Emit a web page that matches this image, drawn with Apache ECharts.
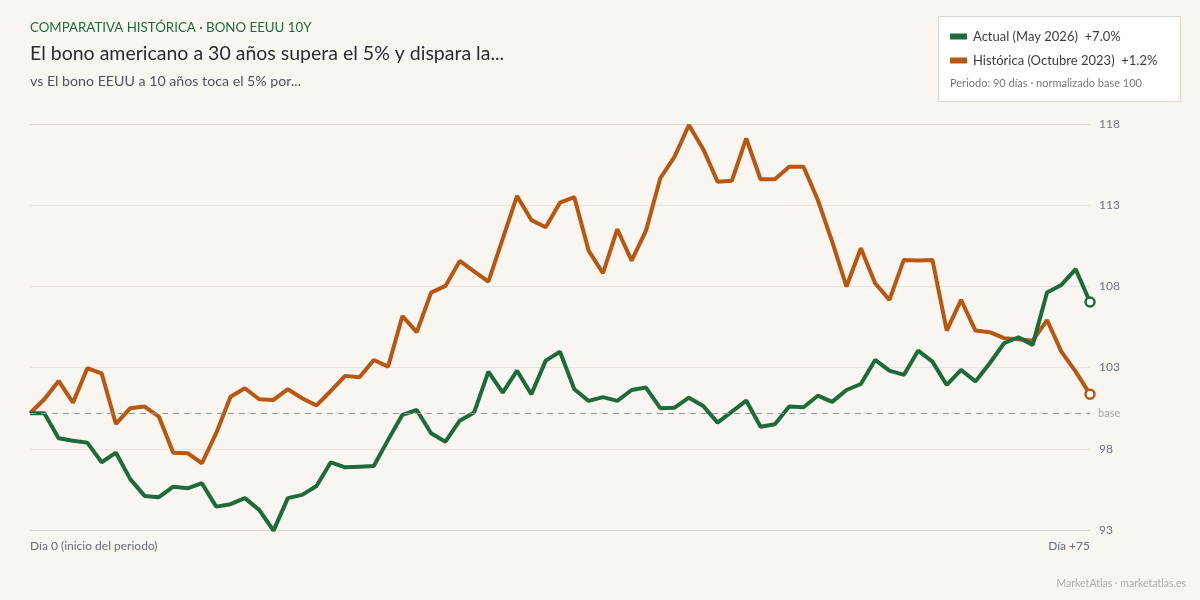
<!DOCTYPE html>
<html>
<head>
<meta charset="utf-8">
<script src="https://cdn.jsdelivr.net/npm/echarts@6/dist/echarts.min.js"></script>
<style>
  html, body { margin: 0; padding: 0; background: #f9f6f1; }
  #chart { width: 1200px; height: 600px; }
</style>
</head>
<body>
<div id="chart"></div>
<script>
var chart = echarts.init(document.getElementById('chart'));

// index vs base 100, one point per session
var actual = [100, 100, 98.46, 98.31, 98.19, 96.98, 97.57, 95.94, 94.91, 94.83,
  95.48, 95.38, 95.69, 94.25, 94.40, 94.77, 94.05, 92.77, 94.77, 94.97,
  95.52, 96.98, 96.67, 96.71, 96.75, 98.36, 99.90, 100.20, 98.77, 98.25,
  99.54, 100.04, 102.56, 101.27, 102.62, 101.17, 103.24, 103.79, 101.48, 100.76,
  100.99, 100.76, 101.43, 101.58, 100.31, 100.34, 100.96, 100.45, 99.42, 100.10,
  100.78, 99.17, 99.32, 100.41, 100.37, 101.08, 100.70, 101.43, 101.80, 103.28,
  102.62, 102.36, 103.85, 103.18, 101.74, 102.67, 101.95, 103.08, 104.31, 104.68,
  104.21, 107.43, 107.90, 108.87, 106.85];

var historical = [100, 100.86, 101.99, 100.65, 102.77, 102.46, 99.34, 100.31, 100.41, 99.79,
  97.57, 97.54, 96.92, 98.77, 101.02, 101.54, 100.86, 100.82, 101.48, 100.92,
  100.48, 101.37, 102.30, 102.22, 103.28, 102.87, 105.99, 104.99, 107.43, 107.84,
  109.38, 108.74, 108.10, 110.74, 113.38, 111.90, 111.45, 112.97, 113.30, 110.01,
  108.62, 111.33, 109.40, 111.24, 114.47, 115.80, 117.75, 116.26, 114.26, 114.32,
  116.93, 114.41, 114.41, 115.18, 115.18, 113.13, 110.57, 107.80, 110.16, 108.00,
  106.98, 109.44, 109.40, 109.44, 105.09, 106.98, 105.09, 104.99, 104.62, 104.56,
  104.47, 105.74, 103.79, 102.56, 101.17];

var seriesNames = ['Actual (May 2026)', 'Histórica (Octubre 2023)'];
var seriesChange = ['+7.0%', '+1.2%'];
var xLabelFirst = 'Día 0 (inicio del periodo)';
var xLabelLast = 'Día +75';
var yTicks = [93, 98, 103, 108, 113, 118];

var days = actual.map(function (v, i) { return i; });
var lastIdx = days.length - 1;

var green = '#1d6b3a';
var orange = '#b9560f';

var changeMap = {};
seriesNames.forEach(function (n, i) { changeMap[n] = seriesChange[i]; });

function endSymbol(val, params) {
  return params.dataIndex === lastIdx ? 9 : 0;
}

var option = {
  backgroundColor: '#f9f6f1',
  textStyle: { fontFamily: 'Lato' },
  animation: false,
  title: [
    {
      text: 'COMPARATIVA HISTÓRICA · BONO EEUU 10Y',
      left: 30, top: 21, padding: 0,
      textStyle: { fontFamily: 'Lato', fontSize: 13.3, fontWeight: 'normal', color: green }
    },
    {
      text: 'El bono americano a 30 años supera el 5% y dispara la...',
      left: 30, top: 44, padding: 0,
      textStyle: { fontFamily: 'Lato', fontSize: 19.5, fontWeight: 'normal', color: '#2b2b36' }
    },
    {
      text: 'vs El bono EEUU a 10 años toca el 5% por...',
      left: 30, top: 74, padding: 0,
      textStyle: { fontFamily: 'Lato', fontSize: 14.2, fontWeight: 'normal', color: '#50535e' }
    }
  ],
  legend: {
    orient: 'vertical',
    left: 950, top: 30,
    padding: 0,
    itemWidth: 17, itemHeight: 6, itemGap: 11,
    icon: 'rect',
    formatter: function (name) { return name + '  ' + changeMap[name]; },
    textStyle: { fontFamily: 'Lato', fontSize: 13, color: '#3a3d48', padding: [0, 0, 0, 1] },
    data: [
      { name: seriesNames[0], itemStyle: { color: green, borderWidth: 0 } },
      { name: seriesNames[1], itemStyle: { color: orange, borderWidth: 0 } }
    ]
  },
  graphic: [
    {
      type: 'rect', z: -1,
      shape: { x: 938.5, y: 16.5, width: 242, height: 85 },
      style: { fill: '#ffffff', stroke: '#ddd8ce', lineWidth: 1 }
    },
    {
      type: 'text', left: 950, top: 78,
      style: { text: 'Periodo: 90 días · normalizado base 100', fontFamily: 'Lato', fontSize: 11, fill: '#737784' }
    },
    {
      type: 'text', right: 14, top: 578,
      style: { text: 'MarketAtlas · marketatlas.es', fontFamily: 'Lato', fontSize: 10.5, fill: '#acacac' }
    }
  ],
  grid: { left: 30, right: 110, top: 124, bottom: 70 },
  xAxis: {
    type: 'category',
    boundaryGap: false,
    data: days,
    axisLine: { show: false },
    axisTick: { show: false },
    splitLine: { show: false },
    axisLabel: {
      interval: function (i) { return i === 0 || i === lastIdx; },
      formatter: function (v, i) { return i === 0 ? xLabelFirst : xLabelLast; },
      alignMinLabel: 'left',
      alignMaxLabel: 'right',
      margin: 10,
      fontFamily: 'Lato', fontSize: 12, color: '#6a6e7a'
    }
  },
  yAxis: [
    {
      type: 'value',
      position: 'right',
      min: yTicks[0], max: yTicks[yTicks.length - 1], interval: 5,
      axisLine: { show: false },
      axisTick: { show: false },
      axisLabel: { margin: 9, fontFamily: 'Lato', fontSize: 12, color: '#6e727e' },
      splitLine: {
        lineStyle: { color: ['#dcd7ce', '#e8e4dd', '#e8e4dd', '#e8e4dd', '#e8e4dd', '#dcd7ce'], width: 1 }
      }
    },
    {
      // data scale, base 100 sits slightly above the rounded grid labels
      type: 'value',
      show: false,
      min: 92.81, max: 117.81,
      splitLine: { show: false }
    }
  ],
  series: [
    {
      name: seriesNames[1],
      type: 'line',
      yAxisIndex: 1,
      data: historical,
      clip: false,
      symbol: 'circle',
      symbolSize: endSymbol,
      showSymbol: true,
      lineStyle: { color: orange, width: 4 },
      itemStyle: { color: '#ffffff', borderColor: orange, borderWidth: 2.5 },
      emphasis: { disabled: true },
      markLine: {
        silent: true,
        symbol: 'none',
        data: [{ yAxis: 100 }],
        lineStyle: { color: '#9b9898', type: [6, 5], width: 1 },
        label: { position: 'end', distance: 8, formatter: 'base', fontFamily: 'Lato', fontSize: 11, color: '#a8a6a4' }
      }
    },
    {
      name: seriesNames[0],
      type: 'line',
      yAxisIndex: 1,
      data: actual,
      clip: false,
      symbol: 'circle',
      symbolSize: endSymbol,
      showSymbol: true,
      lineStyle: { color: green, width: 4 },
      itemStyle: { color: '#ffffff', borderColor: green, borderWidth: 2.5 },
      emphasis: { disabled: true }
    }
  ]
};

chart.setOption(option);
</script>
</body>
</html>
